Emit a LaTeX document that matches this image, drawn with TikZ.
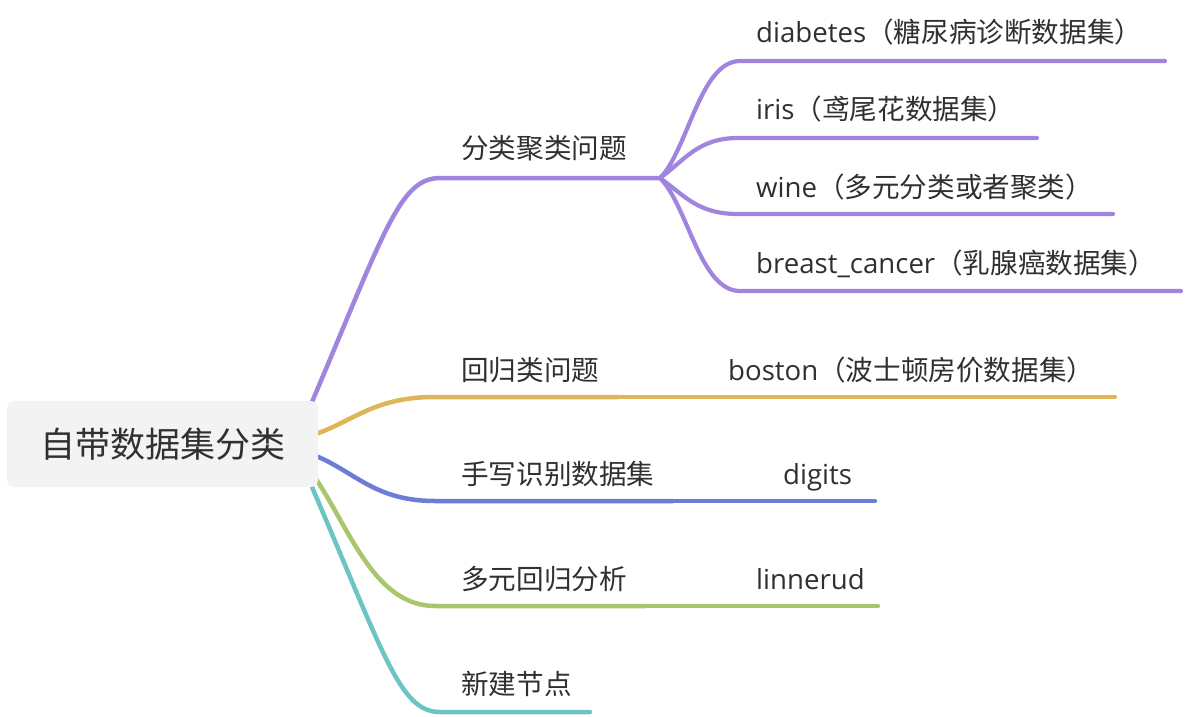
\documentclass[tikz,border=0pt]{standalone}
\usepackage{fontspec}
\setmainfont{Open Sans}
\newfontfamily\cjk{Noto Sans CJK SC}
\definecolor{cpur}{HTML}{A084DE}
\definecolor{cgold}{HTML}{DFB55A}
\definecolor{cblue}{HTML}{6D7CD7}
\definecolor{cgreen}{HTML}{AAC66C}
\definecolor{cteal}{HTML}{6CC5C3}
\definecolor{ctext}{HTML}{303030}
\definecolor{cbox}{HTML}{F3F3F3}
\begin{document}
\begin{tikzpicture}[x=1pt,y=-1pt,
  br/.style={line width=4.5pt,line cap=round},
  subbr/.style={line width=4.2pt,line cap=round},
  lbl/.style={anchor=base west,inner sep=0pt,text=ctext,font=\fontsize{27.6}{30}\selectfont},
  rootbox/.style={draw=none,fill=cbox,rounded corners=7pt,minimum width=311pt,minimum height=86pt,inner sep=0pt,text=ctext,font=\fontsize{35}{40}\selectfont\cjk}
]
\useasboundingbox (0,0) rectangle (1186,716);

% coordinates
\coordinate (s1) at (312,402);
\coordinate (s2) at (316,434);
\coordinate (s3) at (316,456);
\coordinate (s4) at (316,479);
\coordinate (s5) at (312,487);
\coordinate (j1) at (660,178);
\coordinate (e2) at (618,397);
\coordinate (e3) at (673,501);
\coordinate (e4) at (645,606);
\coordinate (e5) at (590,712);
\coordinate (d1) at (1165,61);
\coordinate (d2) at (1037,138);
\coordinate (d3) at (1113,214);
\coordinate (d4) at (1181,291);
\coordinate (d5) at (1115,397);
\coordinate (d6) at (875,501);
\coordinate (d7) at (878,606);

% main branches
\draw[br,cpur] (s1) .. controls (385,230) and (400,178) .. (440,178) -- (j1);
\draw[br,cgold] (s2) .. controls (355,420) and (375,397) .. (435,397) -- (e2);
\draw[br,cblue] (s3) .. controls (355,472) and (375,501) .. (435,501) -- (e3);
\draw[br,cgreen] (s4) .. controls (350,530) and (375,606) .. (435,606) -- (e4);
\draw[br,cteal] (s5) .. controls (385,657) and (400,712) .. (440,712) -- (e5);

% sub branches
\draw[subbr,cpur] (j1) .. controls (688,150) and (700,61) .. (740,61) -- (d1);
\draw[subbr,cpur] (j1) .. controls (685,160) and (698,138) .. (738,138) -- (d2);
\draw[subbr,cpur] (j1) .. controls (685,196) and (698,214) .. (738,214) -- (d3);
\draw[subbr,cpur] (j1) .. controls (688,206) and (700,291) .. (740,291) -- (d4);
\draw[subbr,cgold] (e2) -- (d5);
\draw[subbr,cblue] (e3) -- (d6);
\draw[subbr,cgreen] (e4) -- (d7);

% root
\node[rootbox] (root) at (162.5,444) {自带数据集分类};

% labels
\node[lbl] (n1) at (461,158) {\cjk 分类聚类问题};
\node[lbl] (n2) at (461,380) {\cjk 回归类问题};
\node[lbl] (n3) at (461,484) {\cjk 手写识别数据集};
\node[lbl] (n4) at (461,589) {\cjk 多元回归分析};
\node[lbl] (n5) at (461,694) {\cjk 新建节点};

\node[lbl] (c1) at (756,42) {diabetes{\cjk （糖尿病诊断数据集）}};
\node[lbl] (c2) at (756,119) {iris{\cjk （鸢尾花数据集）}};
\node[lbl] (c3) at (756,197) {wine{\cjk （多元分类或者聚类）}};
\node[lbl] (c4) at (756,273) {breast\_cancer{\cjk （乳腺癌数据集）}};
\node[lbl] (c5) at (728,380) {boston{\cjk （波士顿房价数据集）}};
\node[lbl] (c6) at (783,484) {digits};
\node[lbl] (c7) at (756,589) {linnerud};
\end{tikzpicture}
\end{document}
